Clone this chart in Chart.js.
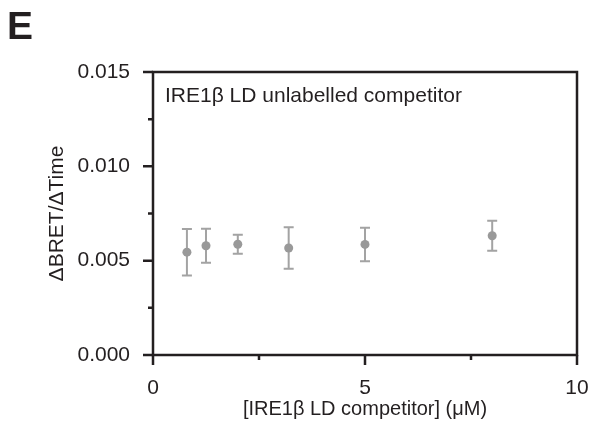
<!DOCTYPE html>
<html>
<head>
<meta charset="utf-8">
<script src="https://cdn.jsdelivr.net/npm/chart.js@4/dist/chart.umd.min.js"></script>
<style>
  html, body { margin: 0; padding: 0; background: #fff; }
  #wrap { width: 591px; height: 426px; position: relative; }
</style>
</head>
<body>
<div id="wrap"><canvas id="chart" width="591" height="426"></canvas></div>
<script>
// competitor concentration (uM) and rate, mean +/- SEM
const conc = [0.8, 1.25, 2, 3.2, 5, 8];
const rate = [0.00545, 0.00579, 0.00587, 0.00567, 0.00586, 0.00632];
const sem = [0.00123, 0.0009, 0.0005, 0.0011, 0.00089, 0.0008];

const xTicks = [0, 5, 10];
const yTicks = [0, 0.005, 0.010, 0.015];

const INK = '#231f20';
const FONT = "'Liberation Sans', Arial, sans-serif";

// frame, tick marks (major + minor), error bars, panel letter, inner label
const decorations = {
  id: 'decorations',
  beforeDatasetsDraw(chart) {
    const ctx = chart.ctx;
    const xs = chart.scales.x, ys = chart.scales.y;
    ctx.save();
    ctx.strokeStyle = '#a3a3a3';
    ctx.lineWidth = 2;
    conc.forEach((c, i) => {
      const px = xs.getPixelForValue(c);
      const top = ys.getPixelForValue(rate[i] + sem[i]);
      const bot = ys.getPixelForValue(rate[i] - sem[i]);
      ctx.beginPath();
      ctx.moveTo(px, top); ctx.lineTo(px, bot);
      ctx.moveTo(px - 5, top); ctx.lineTo(px + 5, top);
      ctx.moveTo(px - 5, bot); ctx.lineTo(px + 5, bot);
      ctx.stroke();
    });
    ctx.restore();
  },
  afterDraw(chart) {
    const ctx = chart.ctx;
    const a = chart.chartArea;
    const xs = chart.scales.x, ys = chart.scales.y;
    ctx.save();
    ctx.strokeStyle = INK;
    ctx.lineWidth = 2.5;
    ctx.lineCap = 'square';
    ctx.strokeRect(a.left, a.top, a.right - a.left, a.bottom - a.top);
    ctx.lineCap = 'butt';
    ctx.beginPath();
    xs.ticks.forEach(t => {
      const px = xs.getPixelForValue(t.value);
      const len = xTicks.includes(t.value) ? 10 : 5;
      ctx.moveTo(px, a.bottom); ctx.lineTo(px, a.bottom + len);
    });
    ys.ticks.forEach(t => {
      const py = ys.getPixelForValue(t.value);
      const major = yTicks.some(v => Math.abs(v - t.value) < 1e-9);
      ctx.moveTo(a.left, py); ctx.lineTo(a.left - (major ? 10 : 5), py);
    });
    ctx.stroke();

    ctx.fillStyle = INK;
    ctx.textBaseline = 'middle';
    ctx.textAlign = 'left';
    ctx.font = '21px ' + FONT;
    ctx.fillText('IRE1\u03b2 LD unlabelled competitor', a.left + 12, 96);
    ctx.font = 'bold 39px ' + FONT;
    ctx.textBaseline = 'alphabetic';
    ctx.fillText('E', 7, 39);
    ctx.restore();
  }
};

new Chart(document.getElementById('chart'), {
  type: 'scatter',
  data: {
    datasets: [{
      data: conc.map((c, i) => ({ x: c, y: rate[i] })),
      pointRadius: 4.5,
      pointBackgroundColor: '#999999',
      pointBorderWidth: 0,
      showLine: false
    }]
  },
  options: {
    responsive: false,
    animation: false,
    layout: { padding: { top: 72, right: 14, left: 0, bottom: 0 } },
    plugins: { legend: { display: false }, tooltip: { enabled: false } },
    scales: {
      x: {
        type: 'linear', min: 0, max: 10,
        afterFit: s => { s.height = 71; s.paddingLeft = 0; s.paddingRight = 0; },
        grid: { display: false },
        border: { display: false },
        ticks: {
          stepSize: 2.5, padding: 13, color: INK, maxRotation: 0,
          font: { family: FONT, size: 21 },
          callback: v => xTicks.includes(v) ? String(v) : ''
        },
        title: {
          display: true, text: '[IRE1\u03b2 LD competitor] (\u03bcM)', color: INK,
          font: { family: FONT, size: 20 }, padding: { top: 0, bottom: 5 }
        }
      },
      y: {
        type: 'linear', min: 0, max: 0.015,
        afterFit: s => { s.width = 153; s.paddingTop = 0; s.paddingBottom = 0; },
        grid: { display: false },
        border: { display: false },
        ticks: {
          stepSize: 0.0025, padding: 15, color: INK,
          font: { family: FONT, size: 21 },
          callback: v => yTicks.some(t => Math.abs(t - v) < 1e-9) ? v.toFixed(3) : ''
        },
        title: {
          display: true, text: '\u0394BRET/\u0394Time', color: INK,
          font: { family: FONT, size: 21 }, padding: { top: 45, bottom: 0 }
        }
      }
    }
  },
  plugins: [decorations]
});
</script>
</body>
</html>
